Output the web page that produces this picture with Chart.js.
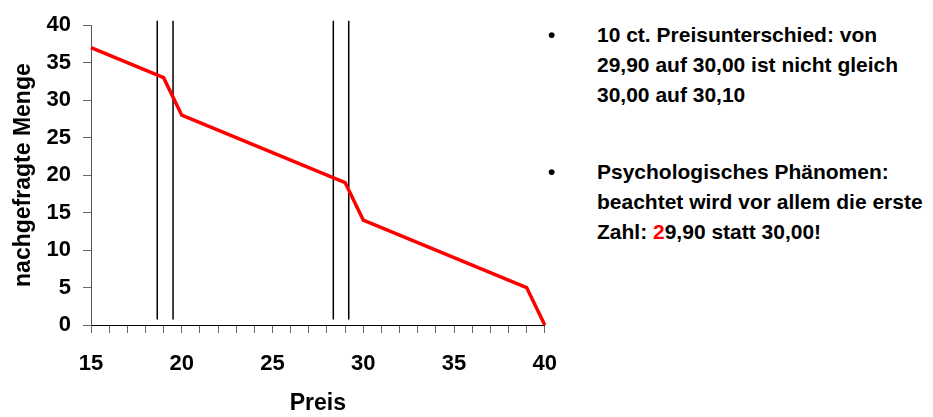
<!DOCTYPE html>
<html>
<head>
<meta charset="utf-8">
<script src="https://cdn.jsdelivr.net/npm/chart.js@4/dist/chart.umd.min.js"></script>
<style>
    body{margin:0;background:#fff;font-family:"Liberation Sans",Arial,sans-serif;}
    #wrap{position:absolute;left:0;top:0;width:575px;height:417px;}
    .punkt{position:absolute;left:597px;font-weight:bold;font-size:21px;line-height:30px;color:#000;white-space:nowrap;}
    .bullet{position:absolute;left:-49px;top:0;}
    .rot{color:#ff0000;}
</style>
</head>
<body>
<div id="wrap"><canvas id="myChart"></canvas></div>

<div class="punkt" style="top:20px;"><span class="bullet">•</span>10 ct. Preisunterschied: von<br>29,90 auf 30,00 ist nicht gleich<br>30,00 auf 30,10</div>
<div class="punkt" style="top:157px;"><span class="bullet">•</span>Psychologisches Phänomen:<br>beachtet wird vor allem die erste<br>Zahl: <span class="rot">2</span>9,90 statt 30,00!</div>

<script>
// Preis-Absatz-Funktion
var preis = [15,16,17,18,19,20,21,22,23,24,25,26,27,28,29,30,31,32,33,34,35,36,37,38,39,40];
var menge = [37,36,35,34,33,28,27,26,25,24,23,22,21,20,19,14,13,12,11,10,9,8,7,6,5,0];

// senkrechte Markierungslinien um die Preisschwellen
var markerX = [18.65, 19.52, 28.35, 29.2];
var markerBottom = 0.75;
var markerTop = 40.6;

var yTicks = [0,5,10,15,20,25,30,35,40];

var datasets = [{
    label: 'Menge',
    data: preis.map(function(p, i){ return {x: p, y: menge[i]}; }),
    borderColor: '#ff0000',
    borderWidth: 3.5,
    pointRadius: 0,
    tension: 0,
    clip: false
}];

for(let i = 0;i < markerX.length;i++){
    datasets.push({
        label: 'marker_'+i,
        data: [{x: markerX[i], y: markerBottom}, {x: markerX[i], y: markerTop}],
        borderColor: '#000',
        borderWidth: 1.5,
        pointRadius: 0,
        clip: false
    });
}

var ctx = document.getElementById('myChart');
var chart = new Chart(ctx, {
    type: 'line',
    data: {datasets: datasets},
    options: {
        responsive: true,
        maintainAspectRatio: false,
        animation: false,
        layout: {padding: {top: 18, right: 25, left: 0, bottom: 0}},
        plugins: {legend: {display: false}, tooltip: {enabled: false}},
        scales: {
            x: {
                type: 'linear',
                min: 15,
                max: 40,
                ticks: {
                    stepSize: 1,
                    autoSkip: false,
                    maxRotation: 0,
                    padding: 18,
                    color: '#000',
                    font: {family: 'Liberation Sans', size: 22, weight: 'bold'},
                    callback: function(v){ return v % 5 === 0 ? v : ''; }
                },
                grid: {drawOnChartArea: false, drawTicks: true, tickLength: 8, color: '#666'},
                border: {display: true, color: '#000', width: 1},
                title: {
                    display: true,
                    text: 'Preis',
                    color: '#000',
                    font: {family: 'Liberation Sans', size: 23, weight: 'bold'},
                    padding: {top: 0, bottom: 0}
                },
                afterFit: function(scale){ scale.height = 92; }
            },
            y: {
                min: 0,
                max: 40,
                afterBuildTicks: function(scale){
                    scale.ticks = yTicks.map(function(v){ return {value: v}; });
                },
                ticks: {
                    padding: 12,
                    color: '#000',
                    font: {family: 'Liberation Sans', size: 22, weight: 'bold'}
                },
                grid: {drawOnChartArea: false, drawTicks: true, tickLength: 8, color: '#666'},
                border: {display: true, color: '#555', width: 1},
                title: {
                    display: true,
                    text: 'nachgefragte Menge',
                    color: '#000',
                    font: {family: 'Liberation Sans', size: 23, weight: 'bold'},
                    padding: {top: 10, bottom: 0}
                },
                afterFit: function(scale){ scale.width = 91; }
            }
        }
    }
});
</script>
</body>
</html>
